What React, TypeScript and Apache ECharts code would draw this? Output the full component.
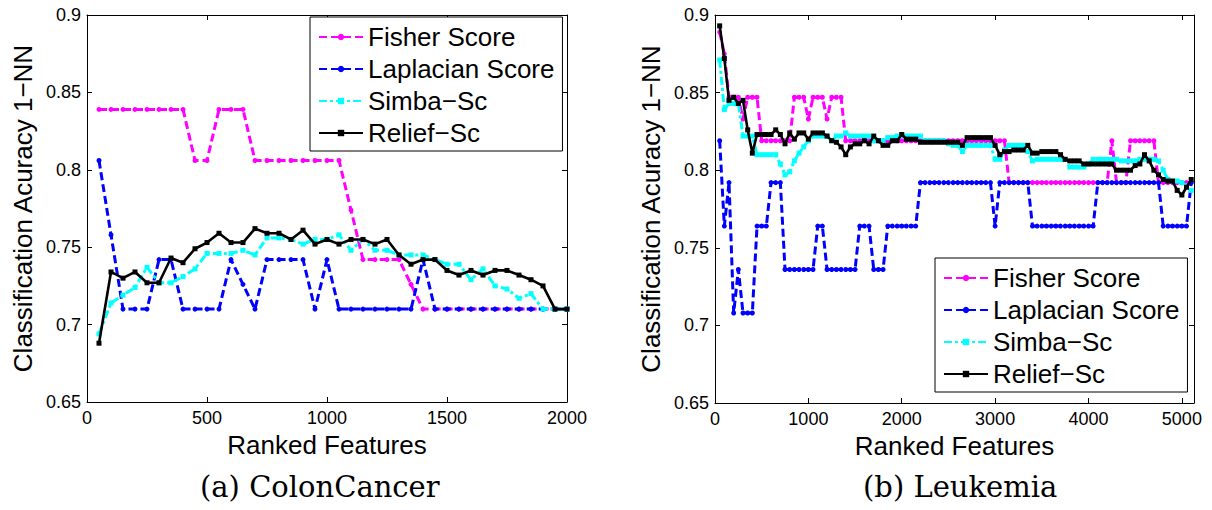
import React, { useEffect, useRef } from "react";
import * as echarts from "echarts";

// ---------- Data ----------
const colonX = [50, 100, 150, 200, 250, 300, 350, 400, 450, 500, 550, 600, 650, 700, 750, 800, 850, 900, 950, 1000,
  1050, 1100, 1150, 1200, 1250, 1300, 1350, 1400, 1450, 1500, 1550, 1600, 1650, 1700, 1750, 1800, 1850, 1900, 1950, 2000];

const colonFisher = [0.839, 0.839, 0.839, 0.839, 0.839, 0.839, 0.839, 0.839, 0.806, 0.806, 0.839, 0.839, 0.839, 0.806, 0.806, 0.806, 0.806, 0.806, 0.806, 0.806,
  0.806, 0.774, 0.742, 0.742, 0.742, 0.742, 0.726, 0.71, 0.71, 0.71, 0.71, 0.71, 0.71, 0.71, 0.71, 0.71, 0.71, 0.71, 0.71, 0.71];

const colonLaplacian = [0.806, 0.758, 0.71, 0.71, 0.71, 0.742, 0.742, 0.71, 0.71, 0.71, 0.71, 0.742, 0.726, 0.71, 0.742, 0.742, 0.742, 0.742, 0.71, 0.742,
  0.71, 0.71, 0.71, 0.71, 0.71, 0.71, 0.71, 0.742, 0.71, 0.71, 0.71, 0.71, 0.71, 0.71, 0.71, 0.71, 0.71, 0.71, 0.71, 0.71];

const colonSimba = [0.694, 0.714, 0.719, 0.724, 0.737, 0.727, 0.727, 0.731, 0.736, 0.746, 0.746, 0.746, 0.748, 0.745, 0.756, 0.756, 0.755, 0.752, 0.755, 0.755,
  0.758, 0.748, 0.755, 0.748, 0.748, 0.745, 0.745, 0.745, 0.742, 0.739, 0.739, 0.729, 0.736, 0.725, 0.723, 0.717, 0.72, 0.71, 0.71, 0.71];

const colonRelief = [0.688, 0.734, 0.73, 0.734, 0.727, 0.727, 0.743, 0.74, 0.749, 0.753, 0.759, 0.753, 0.753, 0.762, 0.759, 0.759, 0.755, 0.761, 0.752, 0.755,
  0.752, 0.755, 0.755, 0.752, 0.755, 0.745, 0.739, 0.742, 0.742, 0.735, 0.732, 0.735, 0.732, 0.735, 0.735, 0.732, 0.729, 0.725, 0.71, 0.71];

const leukX = [50, 100, 150, 200, 250, 300, 350, 400, 450, 500, 550, 600, 650, 700, 750, 800, 850, 900, 950, 1000,
  1050, 1100, 1150, 1200, 1250, 1300, 1350, 1400, 1450, 1500, 1550, 1600, 1650, 1700, 1750, 1800, 1850, 1900, 1950, 2000,
  2050, 2100, 2150, 2200, 2250, 2300, 2350, 2400, 2450, 2500, 2550, 2600, 2650, 2700, 2750, 2800, 2850, 2900, 2950, 3000,
  3050, 3100, 3150, 3200, 3250, 3300, 3350, 3400, 3450, 3500, 3550, 3600, 3650, 3700, 3750, 3800, 3850, 3900, 3950, 4000,
  4050, 4100, 4150, 4200, 4250, 4300, 4350, 4400, 4450, 4500, 4550, 4600, 4650, 4700, 4750, 4800, 4850, 4900, 4950, 5000,
  5050, 5100];

const leukFisher = [0.889, 0.875, 0.847, 0.847, 0.847, 0.833, 0.847, 0.847, 0.847, 0.819, 0.819, 0.819, 0.819, 0.819, 0.819, 0.819, 0.847, 0.847, 0.847, 0.833,
  0.847, 0.847, 0.847, 0.833, 0.847, 0.847, 0.847, 0.819, 0.819, 0.819, 0.819, 0.819, 0.819, 0.819, 0.819, 0.819, 0.819, 0.819, 0.819, 0.819,
  0.819, 0.819, 0.819, 0.819, 0.819, 0.819, 0.819, 0.819, 0.819, 0.819, 0.819, 0.819, 0.819, 0.819, 0.819, 0.819, 0.819, 0.819, 0.819, 0.819,
  0.819, 0.819, 0.792, 0.792, 0.792, 0.792, 0.792, 0.792, 0.792, 0.792, 0.792, 0.792, 0.792, 0.792, 0.792, 0.792, 0.792, 0.792, 0.792, 0.792,
  0.792, 0.792, 0.792, 0.792, 0.819, 0.792, 0.792, 0.792, 0.819, 0.819, 0.819, 0.819, 0.819, 0.819, 0.792, 0.792, 0.792, 0.792, 0.792, 0.792,
  0.792, 0.792];

const leukLaplacian = [0.819, 0.764, 0.792, 0.708, 0.736, 0.708, 0.708, 0.708, 0.764, 0.764, 0.764, 0.792, 0.792, 0.792, 0.736, 0.736, 0.736, 0.736, 0.736, 0.736,
  0.736, 0.764, 0.764, 0.736, 0.736, 0.736, 0.736, 0.736, 0.736, 0.736, 0.764, 0.764, 0.764, 0.736, 0.736, 0.736, 0.764, 0.764, 0.764, 0.764,
  0.764, 0.764, 0.764, 0.792, 0.792, 0.792, 0.792, 0.792, 0.792, 0.792, 0.792, 0.792, 0.792, 0.792, 0.792, 0.792, 0.792, 0.792, 0.792, 0.764,
  0.792, 0.792, 0.792, 0.792, 0.792, 0.792, 0.792, 0.764, 0.764, 0.764, 0.764, 0.764, 0.764, 0.764, 0.764, 0.764, 0.764, 0.764, 0.764, 0.764,
  0.764, 0.792, 0.792, 0.792, 0.792, 0.792, 0.792, 0.792, 0.792, 0.792, 0.792, 0.792, 0.792, 0.792, 0.792, 0.764, 0.764, 0.764, 0.764, 0.764,
  0.764, 0.792];

const leukSimba = [0.871, 0.839, 0.843, 0.843, 0.843, 0.822, 0.822, 0.822, 0.81, 0.81, 0.81, 0.81, 0.81, 0.804, 0.797, 0.799, 0.806, 0.811, 0.815, 0.819,
  0.822, 0.822, 0.822, 0.822, 0.819, 0.822, 0.822, 0.824, 0.822, 0.822, 0.822, 0.822, 0.822, 0.819, 0.819, 0.819, 0.821, 0.821, 0.822, 0.822,
  0.822, 0.822, 0.822, 0.822, 0.819, 0.819, 0.819, 0.819, 0.819, 0.817, 0.816, 0.816, 0.812, 0.816, 0.816, 0.816, 0.816, 0.816, 0.816, 0.807,
  0.807, 0.813, 0.816, 0.816, 0.816, 0.816, 0.812, 0.806, 0.807, 0.807, 0.807, 0.807, 0.807, 0.807, 0.807, 0.802, 0.802, 0.802, 0.802, 0.804,
  0.807, 0.807, 0.807, 0.807, 0.807, 0.807, 0.806, 0.806, 0.806, 0.806, 0.807, 0.807, 0.807, 0.807, 0.806, 0.8, 0.794, 0.793, 0.793, 0.792,
  0.79, 0.787];

const leukRelief = [0.893, 0.872, 0.845, 0.847, 0.843, 0.845, 0.826, 0.811, 0.823, 0.823, 0.823, 0.823, 0.826, 0.823, 0.817, 0.824, 0.82, 0.824, 0.824, 0.82,
  0.824, 0.824, 0.824, 0.822, 0.819, 0.818, 0.815, 0.81, 0.815, 0.817, 0.817, 0.819, 0.817, 0.822, 0.819, 0.816, 0.816, 0.819, 0.819, 0.823,
  0.82, 0.82, 0.82, 0.818, 0.818, 0.818, 0.818, 0.818, 0.818, 0.818, 0.818, 0.818, 0.816, 0.821, 0.821, 0.821, 0.821, 0.821, 0.821, 0.816,
  0.81, 0.812, 0.812, 0.813, 0.813, 0.813, 0.816, 0.811, 0.811, 0.812, 0.812, 0.812, 0.812, 0.81, 0.807, 0.806, 0.806, 0.806, 0.804, 0.804,
  0.804, 0.804, 0.804, 0.804, 0.804, 0.8, 0.8, 0.8, 0.8, 0.803, 0.804, 0.81, 0.806, 0.8, 0.797, 0.794, 0.793, 0.793, 0.787, 0.784,
  0.789, 0.794];

const seriesNames = ["Fisher Score", "Laplacian Score", "Simba\u2212Sc", "Relief\u2212Sc"];
const yTicks = { min: 0.65, max: 0.9, interval: 0.05 };
const colonRange = { min: 0, max: 2000, interval: 500 };
const leukRange = { min: 0, max: 5130, interval: 1000 };
const xTitle = "Ranked Features";
const yTitle = "Classification Acuracy 1\u2212NN";
const captions = ["(a) ColonCancer", "(b) Leukemia"];

// ---------- Styles ----------
const FONT = '"Liberation Sans", Arial, Helvetica, sans-serif';
const SERIF = '"DejaVu Serif", "Liberation Serif", serif';

const styles = [
  { color: "#ff00ff", type: [8, 4], symbol: "circle", size: 5, width: 3 },
  { color: "#0000ff", type: [8, 4], symbol: "circle", size: 5, width: 3 },
  { color: "#00ffff", type: [8, 3, 3, 3], symbol: "rect", size: 5, width: 3 },
  { color: "#000000", type: "solid", symbol: "rect", size: 5, width: 2.6 },
];

function makeAxes(gridIndex: number, range: { min: number; max: number; interval: number }) {
  const tick = { show: true, inside: true, length: 5, lineStyle: { color: "#000", width: 1 } };
  const line = { show: true, onZero: false, lineStyle: { color: "#000", width: 1 } };
  const x = [
    {
      gridIndex, type: "value", position: "bottom", ...range,
      axisLine: line, axisTick: tick, splitLine: { show: false },
      axisLabel: { fontSize: 18, color: "#000", fontFamily: FONT, margin: 7, formatter: (v: number) => String(v) },
      name: xTitle, nameLocation: "middle", nameGap: 21,
      nameTextStyle: { fontSize: 26, color: "#000", fontFamily: FONT, verticalAlign: "top" },
    },
    {
      gridIndex, type: "value", position: "top", ...range,
      axisLine: line, axisTick: tick, splitLine: { show: false }, axisLabel: { show: false },
    },
  ];
  const y = [
    {
      gridIndex, type: "value", position: "left", ...yTicks,
      axisLine: line, axisTick: tick, splitLine: { show: false },
      axisLabel: {
        fontSize: 18, color: "#000", fontFamily: FONT, margin: 6,
        formatter: (v: number) => String(+v.toFixed(2)),
      },
      name: yTitle, nameLocation: "middle", nameGap: 51,
      nameTextStyle: { fontSize: 26, color: "#000", fontFamily: FONT },
    },
    {
      gridIndex, type: "value", position: "right", ...yTicks,
      axisLine: line, axisTick: tick, splitLine: { show: false }, axisLabel: { show: false },
    },
  ];
  return { x, y };
}

function makeSeries(axisIndex: number, xs: number[], ys: number[][]) {
  return ys.map((vals, i) => ({
    type: "line",
    name: seriesNames[i],
    xAxisIndex: axisIndex,
    yAxisIndex: axisIndex,
    data: xs.map((x, j) => [x, vals[j]]),
    symbol: styles[i].symbol,
    symbolSize: styles[i].size,
    showSymbol: true,
    lineStyle: { color: styles[i].color, width: styles[i].width, type: styles[i].type },
    itemStyle: { color: styles[i].color, borderWidth: 0 },
    z: 2 + i,
  }));
}

function makeLegend(left: number, top: number) {
  return {
    orient: "vertical",
    left, top,
    data: seriesNames,
    backgroundColor: "#fff",
    borderColor: "#000",
    borderWidth: 1,
    padding: [6, 8, 4, 8],
    itemWidth: 44,
    itemHeight: 8,
    itemGap: 4,
    selectedMode: false,
    textStyle: { fontSize: 26, color: "#000", fontFamily: FONT, lineHeight: 28 },
  };
}

export default function App() {
  const ref = useRef<HTMLDivElement>(null);
  useEffect(() => {
    if (!ref.current) return;
    const chart = echarts.init(ref.current, undefined, { renderer: "svg" });
    const a0 = makeAxes(0, colonRange);
    const a1 = makeAxes(1, leukRange);
    chart.setOption({
      animation: false,
      backgroundColor: "#fff",
      grid: [
        { left: 87, top: 15, width: 480, height: 387 },
        { left: 715, top: 15, width: 479, height: 388 },
      ],
      xAxis: [...a0.x, ...a1.x],
      yAxis: [...a0.y, ...a1.y],
      legend: [makeLegend(310, 17), makeLegend(935, 258)],
      series: [
        ...makeSeries(0, colonX, [colonFisher, colonLaplacian, colonSimba, colonRelief]),
        ...makeSeries(2, leukX, [leukFisher, leukLaplacian, leukSimba, leukRelief]),
      ],
      graphic: [
        {
          type: "text", left: 322 - 122, top: 472,
          style: { text: captions[0], fontSize: 29, fontFamily: SERIF, fill: "#000" },
        },
        {
          type: "text", left: 955 - 92, top: 472,
          style: { text: captions[1], fontSize: 29, fontFamily: SERIF, fill: "#000" },
        },
      ],
    });
    return () => chart.dispose();
  }, []);
  return (
    <div
      ref={ref}
      style={{ position: "absolute", left: 0, top: 0, width: 1212, height: 510, background: "#fff" }}
    />
  );
}
